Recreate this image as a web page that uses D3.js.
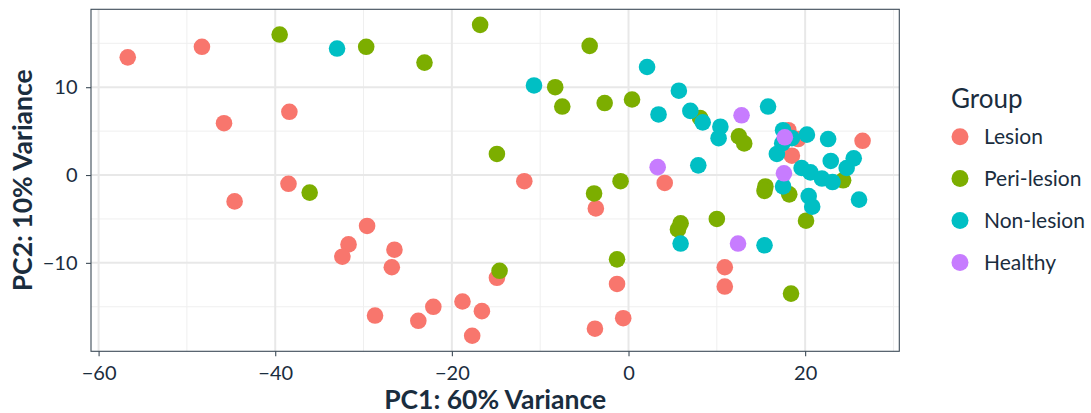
<!DOCTYPE html>
<html>
<head>
<meta charset="utf-8">
<script src="https://cdn.jsdelivr.net/npm/d3@7"></script>
<style>
  html, body { margin: 0; padding: 0; background: #ffffff; }
  svg { display: block; }
  text { font-family: Lato, "Open Sans", sans-serif; }
</style>
</head>
<body>
<svg id="chart" width="1091" height="413"></svg>
<script>
// ---- data (PC1, PC2) per group ----
const groups = ["Lesion", "Peri-lesion", "Non-lesion", "Healthy"];
const groupColors = ["#F8766D", "#7CAE00", "#00BFC4", "#C77CFF"];

const lesionPC1 = [-56.7, -48.3, -45.8, -38.4, -38.5, -44.6, -31.7, -32.4, -29.6, -26.5, -26.8, -28.7, -23.8, -22.1, -18.8, -16.6, -17.7, -14.9, -11.8, -3.7, -1.3, -0.6, -3.8, 4.1, 10.9, 10.9, 18.1, 19.2, 18.5, 26.5];
const lesionPC2 = [13.4, 14.6, 5.9, 7.2, -1.0, -3.0, -7.9, -9.3, -5.8, -8.5, -10.5, -16.0, -16.6, -15.0, -14.4, -15.5, -18.3, -11.7, -0.7, -3.8, -12.4, -16.3, -17.5, -0.9, -10.5, -12.7, 5.1, 4.1, 2.2, 3.9];

const periPC1 = [-39.5, -29.7, -23.1, -16.8, -4.4, -8.3, -7.5, -2.7, 0.4, -36.1, -14.9, -14.6, -3.9, -0.9, -1.3, 8.1, 12.5, 13.1, 15.5, 15.4, 18.2, 24.3, 20.1, 10.0, 5.9, 5.6, 18.4];
const periPC2 = [16.0, 14.6, 12.8, 17.1, 14.7, 10.0, 7.8, 8.2, 8.6, -2.0, 2.4, -10.9, -2.1, -0.7, -9.6, 6.5, 4.4, 3.6, -1.3, -1.8, -2.2, -0.6, -5.2, -5.0, -5.5, -6.2, -13.5];

const nonPC1 = [-33.0, -10.7, 2.1, 5.7, 3.4, 7.0, 8.4, 10.4, 10.2, 15.8, 7.9, 17.5, 18.5, 17.4, 20.2, 22.6, 16.8, 22.9, 25.5, 24.7, 19.6, 20.6, 21.9, 23.1, 17.5, 20.4, 20.8, 26.1, 5.9, 15.4];
const nonPC2 = [14.4, 10.2, 12.3, 9.6, 6.9, 7.3, 6.0, 5.5, 4.2, 7.8, 1.1, 5.1, 4.2, 3.6, 4.6, 4.1, 2.4, 1.6, 1.9, 0.8, 0.8, 0.3, -0.4, -0.8, -1.3, -2.4, -3.6, -2.8, -7.8, -8.0];

const healthyPC1 = [3.3, 12.8, 17.7, 17.6, 12.4];
const healthyPC2 = [0.9, 6.8, 4.3, 0.2, -7.8];

const xMajorTicks = [-60, -40, -20, 0, 20];
const xMinorTicks = [-50, -30, -10, 10, 30];
const yMajorTicks = [-10, 0, 10];
const yMinorTicks = [-15, -5, 5, 15];

const xTitle = "PC1: 60% Variance";
const yTitle = "PC2: 10% Variance";
const legendTitle = "Group";

// ---- build table ----
const seriesX = [lesionPC1, periPC1, nonPC1, healthyPC1];
const seriesY = [lesionPC2, periPC2, nonPC2, healthyPC2];
const points = [];
groups.forEach((g, gi) => {
  seriesX[gi].forEach((x, i) => points.push({ group: g, gi, x, y: seriesY[gi][i] }));
});

// ---- layout ----
const panel = { left: 91, top: 9.3, right: 899.3, bottom: 351.3 };
const textColor = "#1a2d3e";
const frameColor = "#3d4b57";

function expand(ext) { const r = ext[1] - ext[0]; return [ext[0] - 0.05 * r, ext[1] + 0.05 * r]; }
const x = d3.scaleLinear().domain(expand(d3.extent(points, d => d.x))).range([panel.left, panel.right]);
const y = d3.scaleLinear().domain(expand(d3.extent(points, d => d.y))).range([panel.bottom, panel.top]);
const color = d3.scaleOrdinal().domain(groups).range(groupColors);

const svg = d3.select("#chart");

// grid
const grid = svg.append("g");
grid.selectAll(".xmin").data(xMinorTicks.filter(t => x(t) <= panel.right)).join("line")
  .attr("x1", d => x(d)).attr("x2", d => x(d)).attr("y1", panel.top).attr("y2", panel.bottom)
  .attr("stroke", "#efefef").attr("stroke-width", 1);
grid.selectAll(".ymin").data(yMinorTicks).join("line")
  .attr("y1", d => y(d)).attr("y2", d => y(d)).attr("x1", panel.left).attr("x2", panel.right)
  .attr("stroke", "#efefef").attr("stroke-width", 1);
grid.selectAll(".xmaj").data(xMajorTicks).join("line")
  .attr("x1", d => x(d)).attr("x2", d => x(d)).attr("y1", panel.top).attr("y2", panel.bottom)
  .attr("stroke", "#e8e8e8").attr("stroke-width", 2);
grid.selectAll(".ymaj").data(yMajorTicks).join("line")
  .attr("y1", d => y(d)).attr("y2", d => y(d)).attr("x1", panel.left).attr("x2", panel.right)
  .attr("stroke", "#e8e8e8").attr("stroke-width", 2);

// points
svg.append("g").selectAll("circle").data(points).join("circle")
  .attr("cx", d => x(d.x)).attr("cy", d => y(d.y)).attr("r", 8.3)
  .attr("fill", d => color(d.group));

// panel border
svg.append("rect")
  .attr("x", panel.left).attr("y", panel.top)
  .attr("width", panel.right - panel.left).attr("height", panel.bottom - panel.top)
  .attr("fill", "none").attr("stroke", frameColor).attr("stroke-width", 1.1);

// axes
const xAxis = svg.append("g").attr("transform", `translate(0,${panel.bottom})`)
  .call(d3.axisBottom(x).tickValues(xMajorTicks).tickSize(5).tickPadding(9.5).tickSizeOuter(0));
const yAxis = svg.append("g").attr("transform", `translate(${panel.left},0)`)
  .call(d3.axisLeft(y).tickValues(yMajorTicks).tickSize(5).tickPadding(8.5).tickSizeOuter(0));
[xAxis, yAxis].forEach(a => {
  a.select(".domain").remove();
  a.selectAll(".tick line").attr("stroke", frameColor).attr("stroke-width", 1.1);
  a.selectAll(".tick text").attr("fill", textColor).style("font-size", "20px")
    .style("font-family", "Lato, sans-serif");
});

// axis titles
svg.append("text").attr("x", (panel.left + panel.right) / 2).attr("y", 408.5)
  .attr("text-anchor", "middle").attr("fill", textColor)
  .style("font-size", "26.5px").style("font-weight", "700").text(xTitle);
svg.append("text")
  .attr("transform", `translate(32,${(panel.top + panel.bottom) / 2}) rotate(-90)`)
  .attr("text-anchor", "middle").attr("fill", textColor)
  .style("font-size", "26.5px").style("font-weight", "700").text(yTitle);

// legend
const legend = svg.append("g");
legend.append("text").attr("x", 951).attr("y", 108.3).attr("fill", textColor)
  .style("font-size", "26px").text(legendTitle);
const items = legend.selectAll(".item").data(groups).join("g")
  .attr("transform", (d, i) => `translate(960,${136.7 + i * 41.9})`);
items.append("circle").attr("r", 8.5).attr("fill", d => color(d));
items.append("text").attr("x", 24).attr("dy", "0.35em").attr("fill", textColor)
  .style("font-size", "21px").text(d => d);
</script>
</body>
</html>
